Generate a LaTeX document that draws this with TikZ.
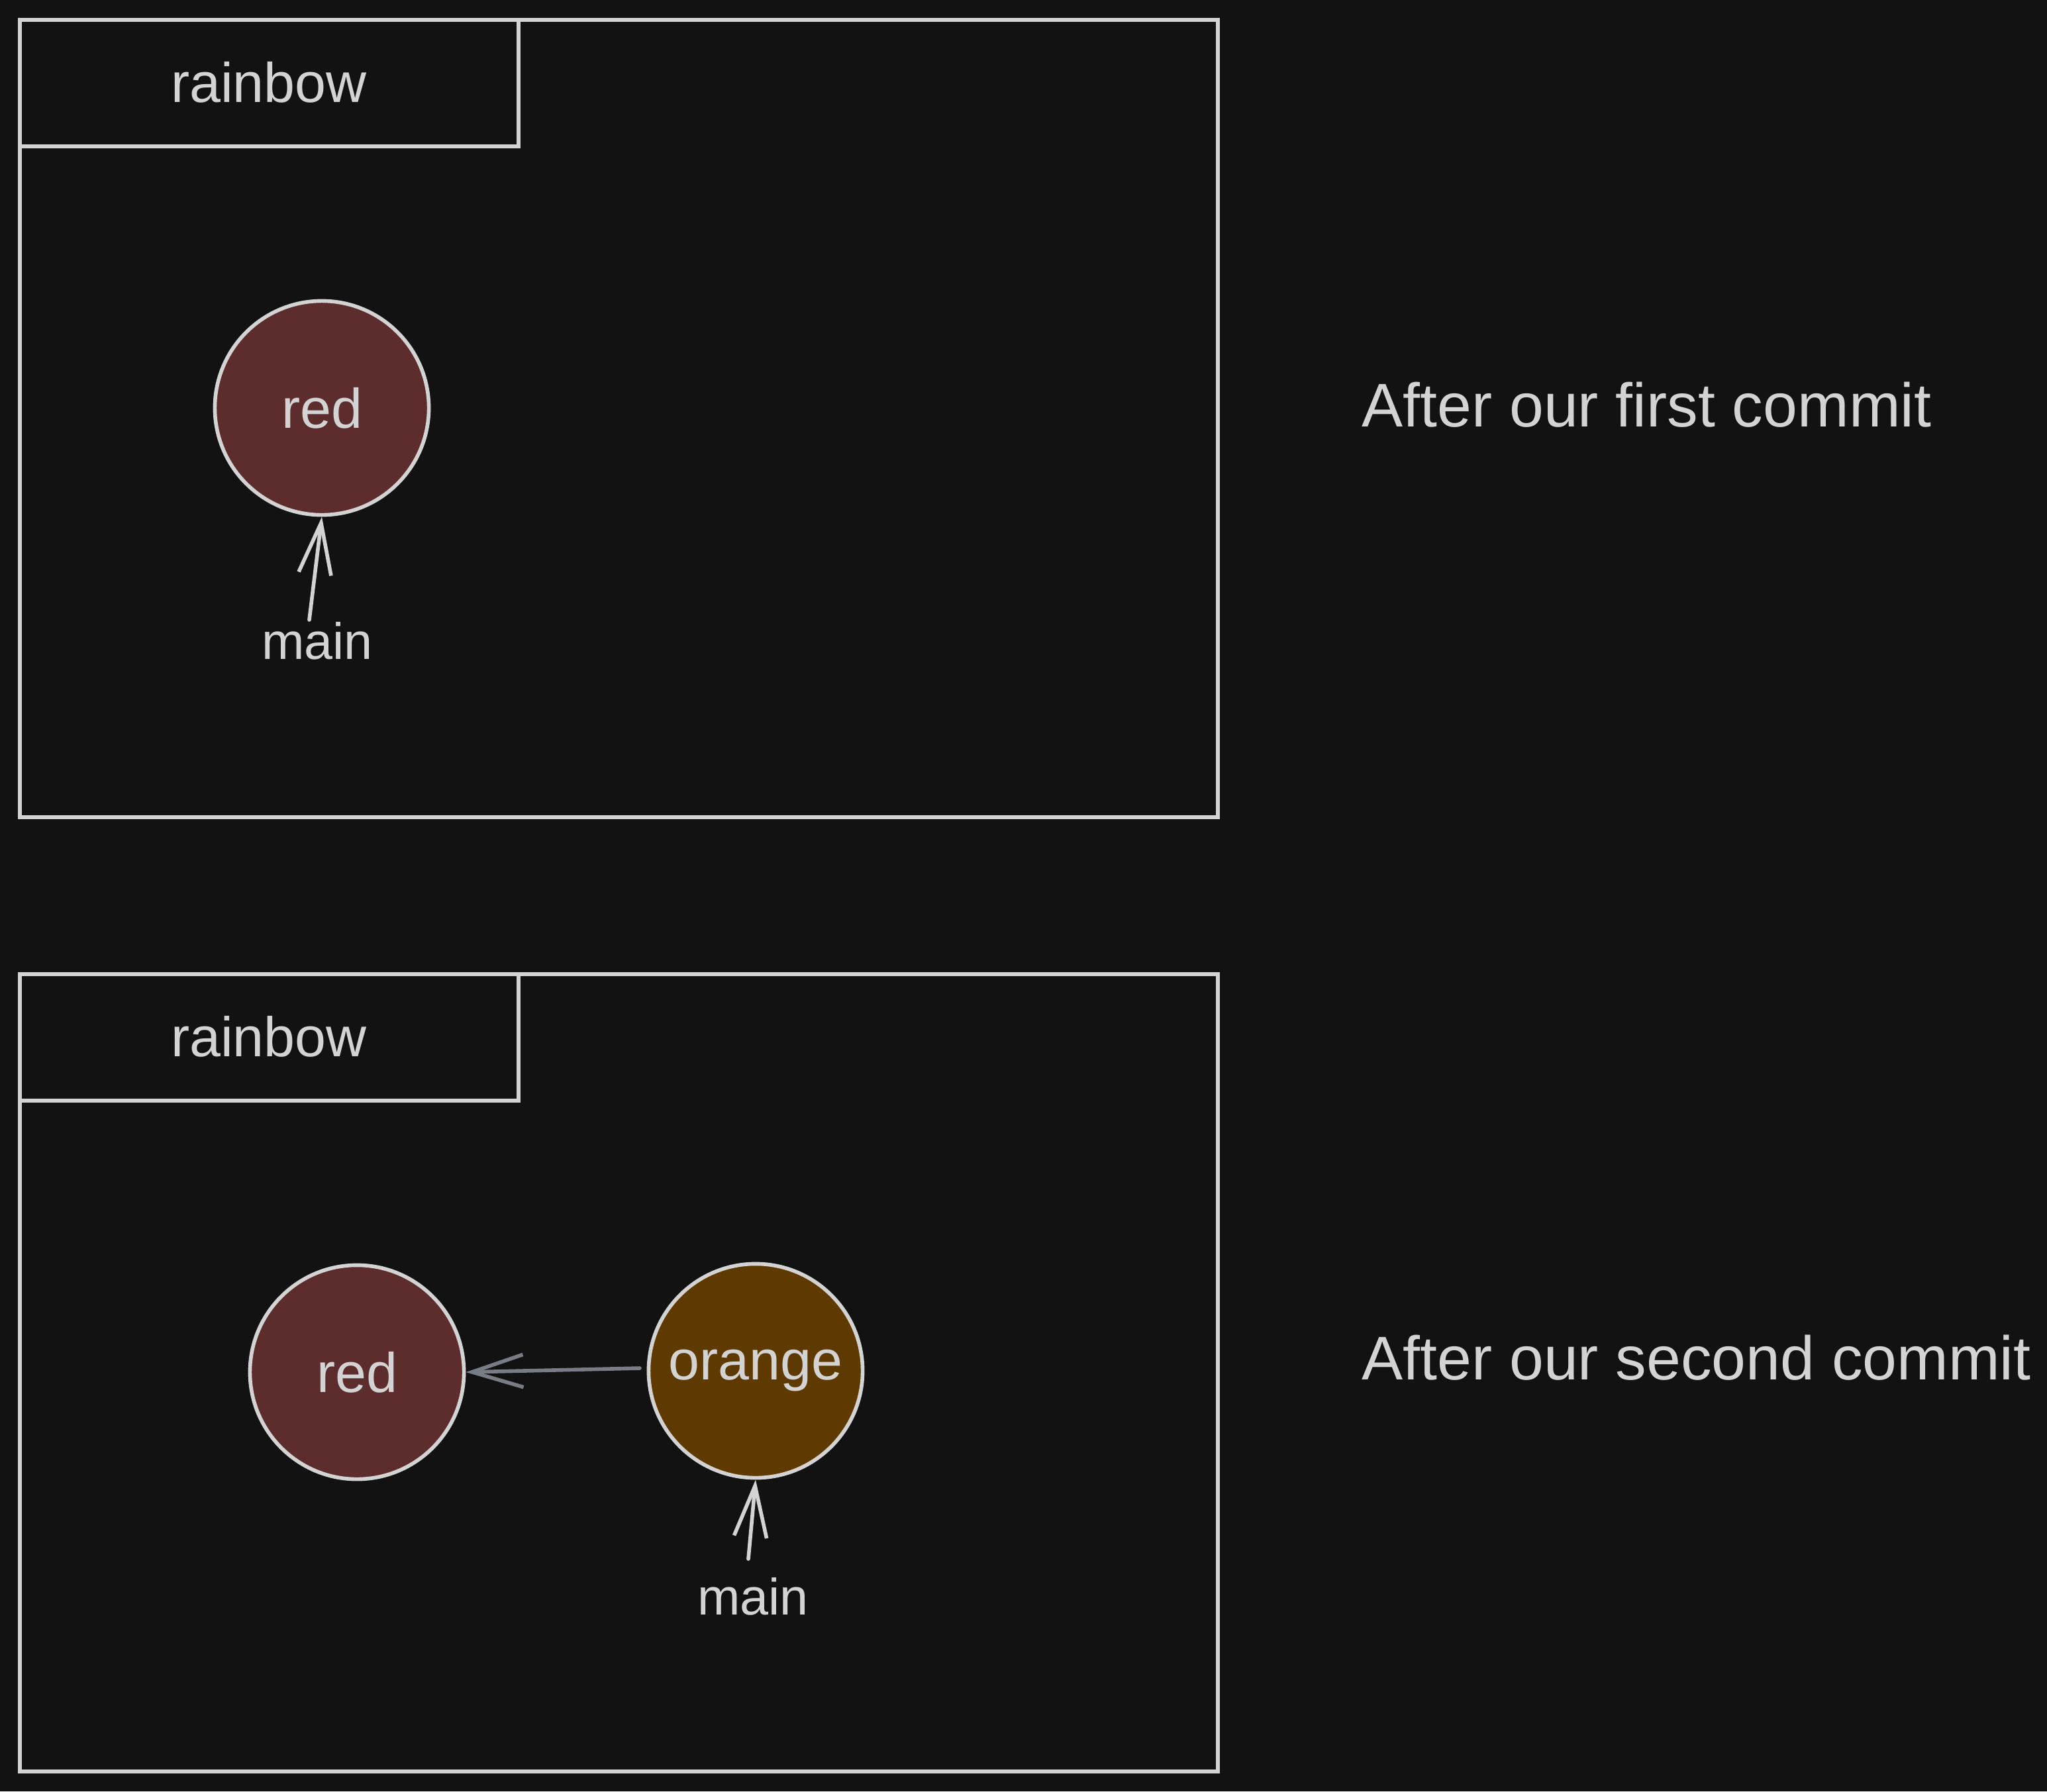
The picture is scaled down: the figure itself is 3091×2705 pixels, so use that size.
\documentclass[tikz,border=0pt]{standalone}
\usepackage{fontspec}
\setmainfont{Liberation Sans}
\usetikzlibrary{arrows.meta,calc}
\definecolor{bgc}{HTML}{121212}
\definecolor{stk}{HTML}{D3D3D3}
\definecolor{redfill}{HTML}{5D2D2E}
\definecolor{orfill}{HTML}{5E3A00}
\definecolor{grayarr}{HTML}{787D85}
\tikzset{
  frame/.style={draw=stk, line width=1.5pt},
  commit/.style={circle, draw=stk, line width=1.6pt, minimum size=3.23cm, inner sep=0pt, text=stk, font=\fontsize{24}{28}\selectfont},
  redc/.style={commit, fill=redfill},
  orc/.style={commit, fill=orfill},
  lbl/.style={text=stk, inner sep=0pt},
  arr/.style={draw=stk, line width=1.6pt, line cap=round, -{Straight Barb[length=22pt,width=14pt,line width=1.6pt]}},
  grayarrow/.style={arr, draw=grayarr}
}
\begin{document}
\begin{tikzpicture}[x=0.01cm,y=-0.01cm]
\fill[bgc] (0,0) rectangle (3091,2705);
\useasboundingbox (0,0) rectangle (3091,2705);
% top panel
\draw[frame] (30,30) rectangle (1839,1234);
\draw[frame] (30,30) rectangle (783,221);
\node[lbl, font=\fontsize{24}{28}\selectfont] (tab1) at (406,124) {rainbow};
\node[redc] (red1) at (486,616) {red};
\node[lbl, font=\fontsize{22}{26}\selectfont] (m1) at (479,968) {main};
\coordinate (s1) at (467,936);
\draw[arr] (s1) -- (red1.south);
\node[lbl, anchor=west, font=\fontsize{26.5}{32}\selectfont] (t1) at (2056,611) {After our first commit};
% bottom panel
\draw[frame] (30,1471) rectangle (1839,2675);
\draw[frame] (30,1471) rectangle (783,1662);
\node[lbl, font=\fontsize{24}{28}\selectfont] (tab2) at (406,1565) {rainbow};
\node[redc] (red2) at (539,2072) {red};
\node[orc] (or2) at (1141,2070) {orange};
\coordinate (gs) at (966,2066);
\draw[grayarrow] (gs) -- (red2.east);
\node[lbl, font=\fontsize{22}{26}\selectfont] (m2) at (1137,2411) {main};
\coordinate (s2) at (1130,2354);
\draw[arr] (s2) -- (or2.south);
\node[lbl, anchor=west, font=\fontsize{26.5}{32}\selectfont] (t2) at (2056,2050) {After our second commit};
\end{tikzpicture}
\end{document}
